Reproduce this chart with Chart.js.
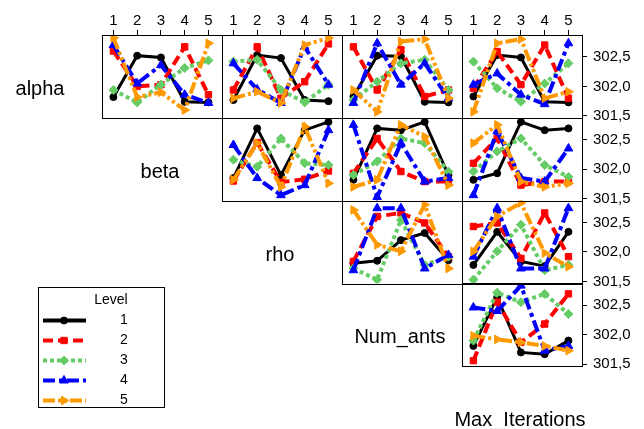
<!DOCTYPE html>
<html>
<head>
<meta charset="utf-8">
<script src="https://cdn.jsdelivr.net/npm/chart.js@4.4.0/dist/chart.umd.min.js"></script>
<style>
  html, body { margin: 0; padding: 0; background: #fff; }
  #wrap { width: 644px; height: 429px; position: relative; }
</style>
</head>
<body>
<div id="wrap"><canvas id="matriz" width="644" height="429"></canvas></div>
<script>
const levels = [1, 2, 3, 4, 5];
const factors = ["alpha", "beta", "rho", "Num_ants", "Max_Iterations"];
const yTicks = [301.5, 302.0, 302.5];

// one row per level 1..5, values at x = 1..5
const alphaBeta = [
  [301.82, 302.52, 302.49, 301.74, 301.73],
  [302.60, 302.00, 302.03, 302.67, 301.86],
  [301.94, 301.73, 302.03, 302.31, 302.44],
  [302.70, 302.05, 302.36, 301.86, 301.72],
  [302.82, 301.82, 301.90, 301.60, 302.73],
];
const alphaRho = [
  [301.77, 302.53, 302.48, 301.77, 301.75],
  [301.94, 302.67, 301.80, 302.08, 302.72],
  [302.42, 302.45, 301.94, 301.73, 302.03],
  [302.39, 301.95, 301.72, 302.67, 302.03],
  [301.80, 301.91, 301.72, 302.70, 302.82],
];
const alphaAnts = [
  [301.83, 302.52, 302.51, 301.74, 301.73],
  [302.67, 301.94, 302.62, 301.83, 301.94],
  [301.77, 302.08, 302.39, 302.45, 301.94],
  [301.72, 302.73, 302.03, 302.39, 301.80],
  [301.94, 301.57, 302.76, 302.80, 301.80],
];
const alphaIter = [
  [301.83, 302.53, 302.49, 301.74, 301.73],
  [301.97, 302.59, 302.03, 302.70, 301.80],
  [302.42, 301.97, 301.74, 302.05, 302.39],
  [302.03, 302.22, 301.86, 301.70, 302.73],
  [301.57, 302.73, 302.80, 301.80, 301.91],
];
const betaRho = [
  [301.85, 302.69, 301.90, 302.66, 302.80],
  [301.80, 302.45, 301.78, 301.83, 301.97],
  [302.16, 302.04, 302.52, 302.10, 302.07],
  [302.41, 301.85, 301.56, 301.73, 302.66],
  [301.82, 302.44, 301.70, 302.72, 301.76],
];
const betaAnts = [
  [301.82, 302.69, 302.66, 302.80, 301.90],
  [301.93, 302.52, 301.96, 301.79, 301.79],
  [301.90, 302.13, 302.52, 302.44, 301.96],
  [302.75, 301.53, 302.44, 301.79, 301.85],
  [301.70, 301.82, 302.75, 302.55, 301.73],
];
const betaIter = [
  [301.82, 301.93, 302.80, 302.66, 302.69],
  [302.10, 302.52, 301.73, 301.79, 301.79],
  [301.96, 302.30, 302.52, 302.07, 301.87],
  [301.56, 302.64, 301.85, 301.79, 302.35],
  [302.44, 302.75, 301.79, 301.70, 301.76],
];
const rhoAnts = [
  [301.81, 301.85, 302.20, 302.32, 301.86],
  [301.84, 302.60, 302.66, 302.49, 301.92],
  [301.72, 301.53, 302.54, 301.78, 301.92],
  [301.69, 302.74, 302.74, 301.72, 301.95],
  [302.71, 302.12, 302.01, 302.80, 301.72],
];
const rhoIter = [
  [301.78, 302.34, 301.84, 301.76, 302.34],
  [302.43, 302.49, 301.89, 302.66, 301.92],
  [301.53, 302.01, 302.46, 301.69, 301.78],
  [301.92, 302.74, 301.72, 301.72, 302.74],
  [302.01, 302.60, 302.83, 301.98, 301.75],
];
const antsIter = [
  [301.81, 302.63, 301.70, 301.67, 301.90],
  [301.56, 302.55, 301.87, 302.18, 302.69],
  [301.90, 302.71, 302.55, 302.69, 302.35],
  [302.46, 302.40, 302.83, 301.73, 301.81],
  [301.98, 301.92, 301.87, 301.81, 301.73],
];

const panels = [
  { row: 0, col: 0, values: alphaBeta },
  { row: 0, col: 1, values: alphaRho },
  { row: 0, col: 2, values: alphaAnts },
  { row: 0, col: 3, values: alphaIter },
  { row: 1, col: 1, values: betaRho },
  { row: 1, col: 2, values: betaAnts },
  { row: 1, col: 3, values: betaIter },
  { row: 2, col: 2, values: rhoAnts },
  { row: 2, col: 3, values: rhoIter },
  { row: 3, col: 3, values: antsIter },
];

const styles = [
  { color: "#000000", dash: [], point: "circle", radius: 3.5, rot: 0, width: 3 },
  { color: "#FF0000", dash: [10, 5], point: "rect", radius: 4.5, rot: 0, width: 4 },
  { color: "#66CC66", dash: [4, 3], point: "rectRot", radius: 4.5, rot: 0, width: 4 },
  { color: "#0000FF", dash: [12, 4, 4, 4], point: "triangle", radius: 5, rot: 0, width: 4 },
  { color: "#FF9900", dash: [12, 3, 3, 3, 3, 3], point: "triangle", radius: 5, rot: 90, width: 4 },
];

const font = "Arial, 'Liberation Sans', sans-serif";

let datasets = [];
panels.forEach((p) => {
  p.values.forEach((vals, i) => {
    const s = styles[i];
    datasets.push({
      label: factors[p.row] + " " + levels[i],
      data: levels.map((x, k) => ({ x: x, y: vals[k] })),
      xAxisID: "x" + p.col,
      yAxisID: "y" + p.row,
      borderColor: s.color,
      backgroundColor: s.color,
      borderWidth: s.width,
      borderDash: s.dash,
      pointStyle: s.point,
      pointRadius: s.radius,
      pointRotation: s.rot,
      pointBorderWidth: 1,
      order: 5 - i,
    });
  });
});

let scales = {};
for (let c = 0; c < 4; c++) {
  scales["x" + c] = {
    axis: "x",
    type: "linear",
    position: "top",
    stack: "cols",
    stackWeight: 1,
    weight: 4 - c,
    min: 0.52,
    max: 5.57,
    afterBuildTicks: (s) => { s.ticks = levels.map((v) => ({ value: v })); },
    afterFit: (s) => { s.height = 35; },
    grid: { drawOnChartArea: false, drawTicks: true, tickLength: 5, color: "#000" },
    border: { display: false },
    ticks: {
      autoSkip: false, maxRotation: 0, padding: 0, color: "#000",
      font: { family: font, size: 15 },
      callback: (v) => String(v),
    },
  };
}
for (let r = 0; r < 4; r++) {
  scales["y" + r] = {
    axis: "y",
    type: "linear",
    position: "right",
    stack: "rows",
    stackWeight: 1,
    weight: r + 1,
    min: 301.47,
    max: 302.87,
    afterBuildTicks: (s) => { s.ticks = yTicks.map((v) => ({ value: v })); },
    afterFit: (s) => { s.width = 62; },
    grid: { drawOnChartArea: false, drawTicks: true, tickLength: 5, color: "#000" },
    border: { display: false },
    ticks: {
      padding: 6, color: "#000",
      font: { family: font, size: 15 },
      callback: (v) => v.toFixed(1).replace(".", ","),
    },
  };
}

function marker(ctx, s, x, y) {
  if (Chart.helpers && Chart.helpers.drawPoint) {
    ctx.fillStyle = s.color;
    ctx.strokeStyle = s.color;
    ctx.lineWidth = 1;
    ctx.setLineDash([]);
    Chart.helpers.drawPoint(ctx, { pointStyle: s.point, radius: s.radius, rotation: s.rot, borderWidth: 1 }, x, y);
  }
}

const decor = {
  id: "decor",
  afterDatasetsDraw(chart) {
    const ctx = chart.ctx;
    const area = chart.chartArea;
    const w = (area.right - area.left) / 4;
    const h = (area.bottom - area.top) / 4;
    ctx.save();
    ctx.strokeStyle = "#000";
    ctx.lineWidth = 1;
    ctx.setLineDash([]);
    panels.forEach((p) => {
      const xs = chart.scales["x" + p.col];
      const ys = chart.scales["y" + p.row];
      ctx.strokeRect(Math.round(xs.left) + 0.5, Math.round(ys.top) + 0.5,
        Math.round(xs.right - xs.left), Math.round(ys.bottom - ys.top));
    });

    // factor names on the diagonal
    ctx.fillStyle = "#000";
    ctx.font = "20px " + font;
    ctx.textAlign = "center";
    ctx.textBaseline = "alphabetic";
    factors.forEach((f, k) => {
      ctx.fillText(f, area.left + (k - 1) * w + w / 2 - 2, area.top + k * h + 60);
    });

    // legend
    ctx.strokeRect(38.5, 287.5, 126, 120);
    ctx.font = "14px " + font;
    ctx.textBaseline = "middle";
    ctx.fillText("Level", 111, 300);
    styles.forEach((s, i) => {
      const y = 320.5 + 20 * i;
      ctx.strokeStyle = s.color;
      ctx.lineWidth = 4;
      ctx.setLineDash(s.dash);
      ctx.beginPath();
      ctx.moveTo(43, y);
      ctx.lineTo(86, y);
      ctx.stroke();
      marker(ctx, s, 64, y);
      ctx.fillStyle = "#000";
      ctx.fillText(String(levels[i]), 124, y);
    });
    ctx.restore();
  },
};

new Chart(document.getElementById("matriz"), {
  type: "line",
  data: { datasets: datasets },
  options: {
    responsive: false,
    animation: false,
    layout: { padding: { left: 102, right: 0, top: 0, bottom: 63 } },
    plugins: { legend: { display: false }, tooltip: { enabled: false } },
    scales: scales,
  },
  plugins: [decor],
});
</script>
</body>
</html>
